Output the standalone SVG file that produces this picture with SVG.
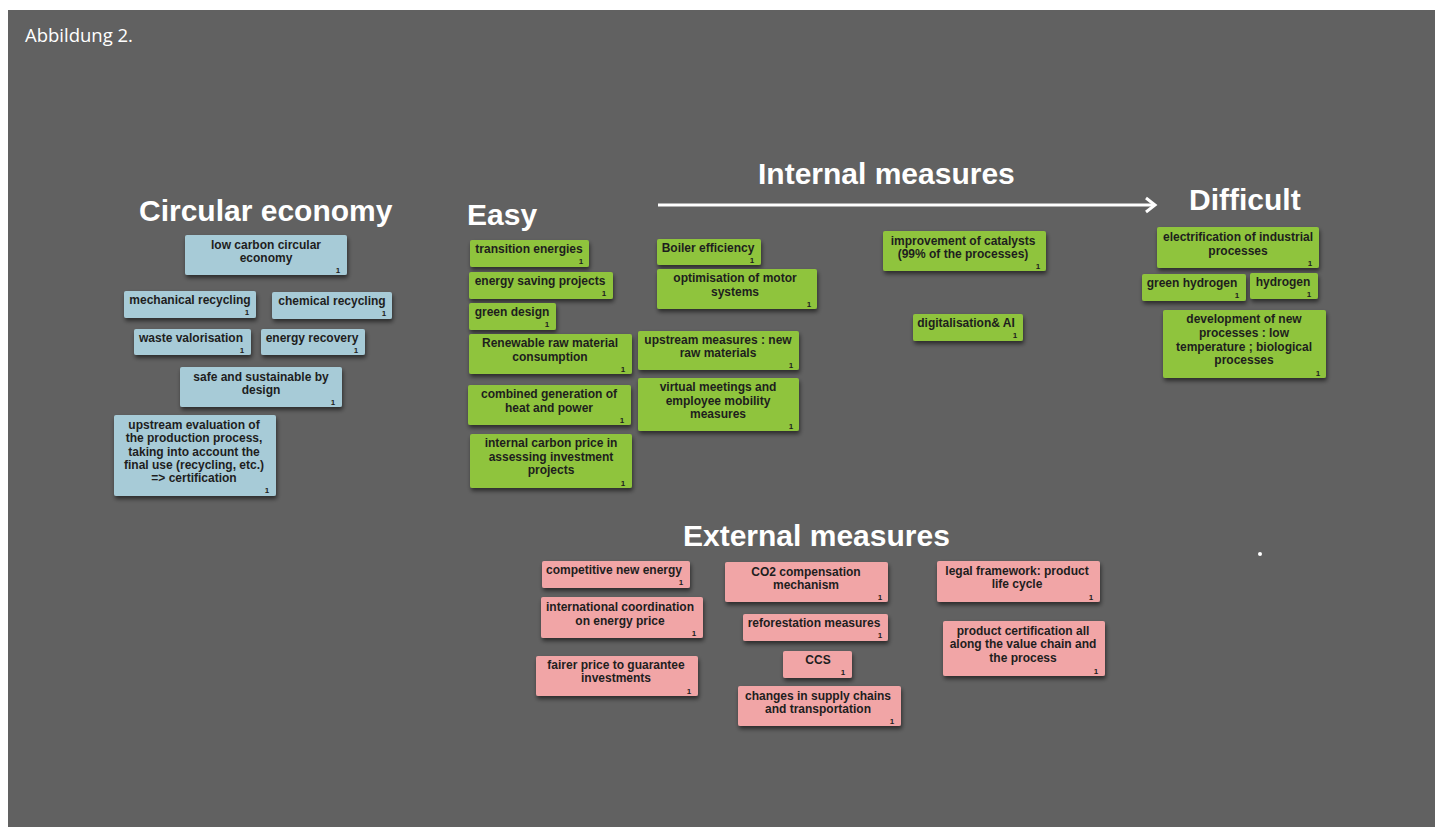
<svg xmlns="http://www.w3.org/2000/svg" width="1435" height="827" viewBox="0 0 1435 827">
<defs>
<filter id="sh" x="-20%" y="-30%" width="140%" height="170%">
<feDropShadow dx="1" dy="3" stdDeviation="2" flood-color="#000" flood-opacity="0.55"/>
</filter>
<style>
.b{fill:#a7cbd7}
.g{fill:#8fc43c}
.p{fill:#f1a5a6}
.box rect{filter:url(#sh)}
.t{font-family:"Liberation Sans",Arial,sans-serif;font-weight:bold;font-size:12px;fill:#1e1e1e;text-anchor:middle}
.n{font-family:"Liberation Sans",Arial,sans-serif;font-weight:bold;font-size:8px;fill:#1e1e1e;text-anchor:middle}
.h{font-family:"Liberation Sans",Arial,sans-serif;font-weight:bold;font-size:30px;fill:#ffffff}
.cap{font-family:"Open Sans","Liberation Sans",sans-serif;font-size:18.5px;fill:#ffffff}
</style>
</defs>
<rect x="0" y="0" width="1435" height="827" fill="#ffffff"/>
<rect x="8" y="10" width="1427" height="817" fill="#616161"/>
<text class="cap" x="25" y="42">Abbildung 2.</text>

<g id="headings">
<text class="h" x="139" y="221">Circular economy</text>
<text class="h" x="467" y="225">Easy</text>
<text class="h" x="758" y="184">Internal measures</text>
<text class="h" x="1189" y="210">Difficult</text>
<text class="h" x="683" y="546">External measures</text>
</g>

<g id="connectors">
<line x1="658" y1="205" x2="1154" y2="205" stroke="#ffffff" stroke-width="3"/>
<polyline points="1146,198 1155,205 1146,212" fill="none" stroke="#ffffff" stroke-width="3"/>
</g>

<!-- Circular economy (blue) -->
<g id="n-lowcarbon" class="box"><rect class="b" x="185" y="235" width="162" height="40" rx="2"/><text class="t" x="266" y="249">low carbon circular</text><text class="t" x="266" y="262">economy</text><text class="n" x="338" y="272.5">1</text></g>
<g id="n-mechanical" class="box"><rect class="b" x="124" y="291" width="132" height="27" rx="2"/><text class="t" x="190" y="303.5">mechanical recycling</text><text class="n" x="247" y="315">1</text></g>
<g id="n-chemical" class="box"><rect class="b" x="272" y="292" width="120" height="27" rx="2"/><text class="t" x="332" y="304.5">chemical recycling</text><text class="n" x="384" y="316">1</text></g>
<g id="n-waste" class="box"><rect class="b" x="134" y="329" width="117" height="26" rx="2"/><text class="t" x="191" y="341.5">waste valorisation</text><text class="n" x="242" y="352.5">1</text></g>
<g id="n-energyrecovery" class="box"><rect class="b" x="261" y="329" width="104" height="26" rx="2"/><text class="t" x="312" y="341.5">energy recovery</text><text class="n" x="356" y="352.5">1</text></g>
<g id="n-safe" class="box"><rect class="b" x="180" y="367" width="162" height="40" rx="2"/><text class="t" x="261" y="381">safe and sustainable by</text><text class="t" x="261" y="394">design</text><text class="n" x="333" y="404.5">1</text></g>
<g id="n-upstreameval" class="box"><rect class="b" x="114" y="415" width="162" height="81" rx="2"/><text class="t" x="194" y="429">upstream evaluation of</text><text class="t" x="194" y="442">the production process,</text><text class="t" x="194" y="456">taking into account the</text><text class="t" x="194" y="469">final use (recycling, etc.)</text><text class="t" x="194" y="482">=&gt; certification</text><text class="n" x="267" y="493">1</text></g>

<!-- Internal measures (green) -->
<g id="n-transition" class="box"><rect class="g" x="470" y="240" width="119" height="27" rx="2"/><text class="t" x="529" y="252.5">transition energies</text><text class="n" x="581" y="264">1</text></g>
<g id="n-energysaving" class="box"><rect class="g" x="469" y="272" width="144" height="27" rx="2"/><text class="t" x="540" y="284.5">energy saving projects</text><text class="n" x="604" y="296">1</text></g>
<g id="n-greendesign" class="box"><rect class="g" x="469" y="303" width="87" height="27" rx="2"/><text class="t" x="512" y="315.5">green design</text><text class="n" x="547" y="327">1</text></g>
<g id="n-renewable" class="box"><rect class="g" x="469" y="334" width="163" height="40" rx="2"/><text class="t" x="550" y="347">Renewable raw material</text><text class="t" x="550" y="361">consumption</text><text class="n" x="623" y="371.5">1</text></g>
<g id="n-combined" class="box"><rect class="g" x="468" y="385" width="163" height="40" rx="2"/><text class="t" x="549" y="398">combined generation of</text><text class="t" x="549" y="412">heat and power</text><text class="n" x="622" y="422.5">1</text></g>
<g id="n-carbonprice" class="box"><rect class="g" x="470" y="434" width="162" height="54" rx="2"/><text class="t" x="551" y="447">internal carbon price in</text><text class="t" x="551" y="461">assessing investment</text><text class="t" x="551" y="474">projects</text><text class="n" x="623" y="485.5">1</text></g>
<g id="n-boiler" class="box"><rect class="g" x="657" y="239" width="104" height="26" rx="2"/><text class="t" x="708" y="251.5">Boiler efficiency</text><text class="n" x="752" y="262.5">1</text></g>
<g id="n-motor" class="box"><rect class="g" x="657" y="269" width="160" height="40" rx="2"/><text class="t" x="735" y="282">optimisation of motor</text><text class="t" x="735" y="296">systems</text><text class="n" x="809" y="306.5">1</text></g>
<g id="n-upstreamraw" class="box"><rect class="g" x="638" y="331" width="161" height="39" rx="2"/><text class="t" x="718" y="344">upstream measures : new</text><text class="t" x="718" y="357">raw materials</text><text class="n" x="791" y="367.5">1</text></g>
<g id="n-virtual" class="box"><rect class="g" x="638" y="378" width="161" height="53" rx="2"/><text class="t" x="718" y="391">virtual meetings and</text><text class="t" x="718" y="405">employee mobility</text><text class="t" x="718" y="418">measures</text><text class="n" x="791" y="428.5">1</text></g>
<g id="n-catalysts" class="box"><rect class="g" x="883" y="231" width="163" height="40" rx="2"/><text class="t" x="963" y="245">improvement of catalysts</text><text class="t" x="963" y="258">(99% of the processes)</text><text class="n" x="1038" y="268.5">1</text></g>
<g id="n-digital" class="box"><rect class="g" x="913" y="314" width="110" height="27" rx="2"/><text class="t" x="966" y="326.5">digitalisation&amp; AI</text><text class="n" x="1015" y="338">1</text></g>
<g id="n-electrification" class="box"><rect class="g" x="1157" y="227" width="162" height="41" rx="2"/><text class="t" x="1238" y="241">electrification of industrial</text><text class="t" x="1238" y="255">processes</text><text class="n" x="1310" y="265.5">1</text></g>
<g id="n-greenh2" class="box"><rect class="g" x="1142" y="274" width="104" height="27" rx="2"/><text class="t" x="1192" y="286.5">green hydrogen</text><text class="n" x="1237" y="298">1</text></g>
<g id="n-h2" class="box"><rect class="g" x="1250" y="273" width="68" height="26" rx="2"/><text class="t" x="1283" y="285.5">hydrogen</text><text class="n" x="1309" y="296.5">1</text></g>
<g id="n-newprocesses" class="box"><rect class="g" x="1163" y="310" width="163" height="68" rx="2"/><text class="t" x="1244" y="323">development of new</text><text class="t" x="1244" y="337">processes : low</text><text class="t" x="1244" y="351">temperature ; biological</text><text class="t" x="1244" y="364">processes</text><text class="n" x="1318" y="375.5">1</text></g>

<!-- External measures (pink) -->
<g id="n-competitive" class="box"><rect class="p" x="542" y="561" width="148" height="27" rx="2"/><text class="t" x="614" y="573.5">competitive new energy</text><text class="n" x="681" y="585">1</text></g>
<g id="n-intcoord" class="box"><rect class="p" x="541" y="597" width="162" height="41" rx="2"/><text class="t" x="620" y="611">international coordination</text><text class="t" x="620" y="625">on energy price</text><text class="n" x="694" y="635.5">1</text></g>
<g id="n-fairer" class="box"><rect class="p" x="536" y="656" width="162" height="40" rx="2"/><text class="t" x="616" y="669">fairer price to guarantee</text><text class="t" x="616" y="682">investments</text><text class="n" x="689" y="693.5">1</text></g>
<g id="n-co2" class="box"><rect class="p" x="725" y="562" width="163" height="40" rx="2"/><text class="t" x="806" y="576">CO2 compensation</text><text class="t" x="806" y="589">mechanism</text><text class="n" x="880" y="599.5">1</text></g>
<g id="n-reforest" class="box"><rect class="p" x="743" y="614" width="145" height="27" rx="2"/><text class="t" x="814" y="626.5">reforestation measures</text><text class="n" x="880" y="638">1</text></g>
<g id="n-ccs" class="box"><rect class="p" x="783" y="651" width="69" height="27" rx="2"/><text class="t" x="818" y="663.5">CCS</text><text class="n" x="843" y="675">1</text></g>
<g id="n-supply" class="box"><rect class="p" x="738" y="686" width="163" height="40" rx="2"/><text class="t" x="818" y="700">changes in supply chains</text><text class="t" x="818" y="713">and transportation</text><text class="n" x="892" y="723.5">1</text></g>
<g id="n-legal" class="box"><rect class="p" x="937" y="561" width="163" height="41" rx="2"/><text class="t" x="1017" y="575">legal framework: product</text><text class="t" x="1017" y="588">life cycle</text><text class="n" x="1091" y="599.5">1</text></g>
<g id="n-certification" class="box"><rect class="p" x="943" y="621" width="162" height="55" rx="2"/><text class="t" x="1023" y="635">product certification all</text><text class="t" x="1023" y="648">along the value chain and</text><text class="t" x="1023" y="662">the process</text><text class="n" x="1096" y="673.5">1</text></g>

<circle cx="1260" cy="554" r="2" fill="#ffffff"/>
</svg>
